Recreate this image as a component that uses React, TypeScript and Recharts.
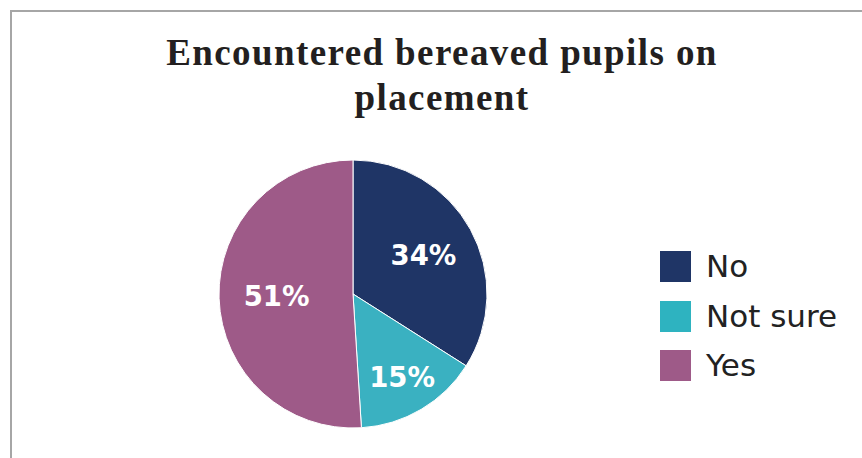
import React from "react";
import { PieChart, Pie, Cell, Legend } from "recharts";

const categories = ["No", "Not sure", "Yes"];
const values = [34, 15, 51];
const colors = ["#1F3566", "#3AB1C1", "#9E5A88"];
const legendColors = ["#1F3566", "#2EB3C0", "#9E5A88"];
const titleLines = ["Encountered bereaved pupils on", "placement"];

const data = categories.map((name, i) => ({ name, value: values[i] }));

const RAD = Math.PI / 180;

const renderLabel = (props: any) => {
  const { cx, cy, midAngle, outerRadius, percent, value } = props;
  const r = outerRadius * (percent < 0.2 ? 0.72 : percent < 0.4 ? 0.6 : 0.57);
  const x = cx + r * Math.cos(-midAngle * RAD);
  const y = cy + r * Math.sin(-midAngle * RAD);
  return (
    <text
      x={x}
      y={y}
      fill="#ffffff"
      textAnchor="middle"
      dominantBaseline="central"
      fontFamily="DejaVu Sans"
      fontWeight="bold"
      fontSize={27.5}
    >
      {`${value}%`}
    </text>
  );
};

const renderLegend = (props: any) => {
  const { payload } = props;
  return (
    <div>
      {(payload || []).map((entry: any, i: number) => (
        <div
          key={i}
          style={{
            display: "flex",
            alignItems: "center",
            height: 31,
            marginBottom: i < payload.length - 1 ? 18.5 : 0,
          }}
        >
          <div
            style={{
              width: 31,
              height: 31,
              background: legendColors[i],
              marginRight: 15,
            }}
          />
          <span
            style={{
              fontFamily: "DejaVu Sans",
              fontSize: 31,
              color: "#222222",
              lineHeight: "31px",
              whiteSpace: "nowrap",
            }}
          >
            {entry.value}
          </span>
        </div>
      ))}
    </div>
  );
};

export default function App() {
  return (
    <div
      style={{
        position: "absolute",
        left: 0,
        top: 0,
        width: 862,
        height: 458,
        background: "#ffffff",
        overflow: "hidden",
      }}
    >
      <div
        style={{
          position: "absolute",
          left: 10,
          top: 10,
          width: 900,
          height: 500,
          borderTop: "2px solid #a6a6a6",
          borderLeft: "2px solid #a6a6a6",
        }}
      />
      <div
        style={{
          position: "absolute",
          left: 442,
          top: 30,
          transform: "translateX(-50%)",
          textAlign: "center",
          fontFamily: "Liberation Serif",
          fontWeight: "bold",
          fontSize: 37,
          lineHeight: "45px",
          letterSpacing: "1.4px",
          color: "#231f20",
          whiteSpace: "nowrap",
        }}
      >
        {titleLines.map((t, i) => (
          <div key={i}>{t}</div>
        ))}
      </div>
      <div style={{ position: "absolute", left: 0, top: 0 }}>
        <PieChart width={862} height={458} margin={{ top: 0, right: 0, bottom: 0, left: 0 }}>
          <Pie
            data={data}
            dataKey="value"
            nameKey="name"
            cx={353}
            cy={294}
            outerRadius={134}
            startAngle={90}
            endAngle={-270}
            stroke="#ffffff"
            strokeWidth={1}
            label={renderLabel}
            labelLine={false}
            isAnimationActive={false}
          >
            {data.map((d, i) => (
              <Cell key={d.name} fill={colors[i]} />
            ))}
          </Pie>
          <Legend
            content={renderLegend}
            layout="vertical"
            wrapperStyle={{ position: "absolute", left: 660, top: 251, width: 200 }}
          />
        </PieChart>
      </div>
    </div>
  );
}
